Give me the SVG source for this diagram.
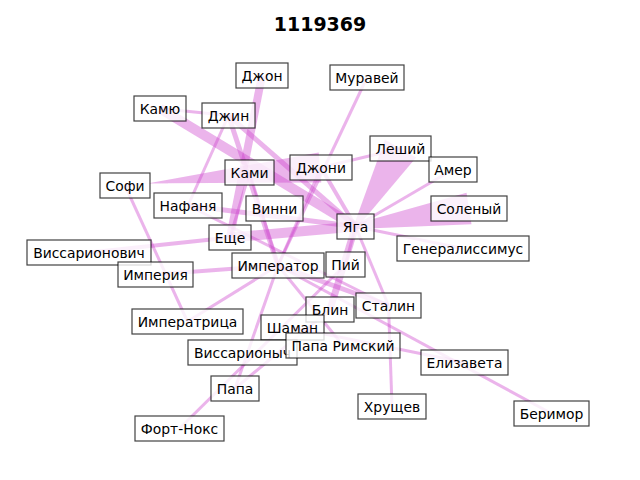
<svg xmlns="http://www.w3.org/2000/svg" width="640" height="480" viewBox="0 0 640 480">
<style>
.e{stroke:#CC44CC;stroke-opacity:0.4;fill:none;stroke-linecap:butt}
.w{fill:#CC44CC;fill-opacity:0.4;stroke:none}
.n rect{fill:#fff;fill-opacity:0.8;stroke:#000;stroke-opacity:0.75;stroke-width:1.2}
.n text{font-family:"DejaVu Sans","Liberation Sans",sans-serif;font-size:13.9px;fill:#000;text-anchor:middle}
.t{font-family:"DejaVu Sans","Liberation Sans",sans-serif;font-size:19px;font-weight:bold;text-anchor:middle;fill:#000}
</style>
<rect width="640" height="480" fill="#fff"/>
<text class="t" x="320" y="30.5">1119369</text>
<g id="edges">
<line class="e" x1="262" y1="75.5" x2="230" y2="237.5" stroke-width="8"/>
<line class="e" x1="160" y1="108.5" x2="228.5" y2="115.5" stroke-width="3"/>
<line class="e" x1="160" y1="108.5" x2="355.5" y2="226.5" stroke-width="10"/>
<line class="e" x1="228.5" y1="115.5" x2="355.5" y2="226.5" stroke-width="5"/>
<line class="e" x1="228.5" y1="115.5" x2="278" y2="265.5" stroke-width="5"/>
<line class="e" x1="228.5" y1="115.5" x2="188" y2="205.5" stroke-width="3"/>
<line class="e" x1="367" y1="77.5" x2="278" y2="265.5" stroke-width="3"/>
<polygon class="w" points="321.3,182.5 318.7,152.5 125.2,187.5 124.8,183.5"/>
<line class="e" x1="321" y1="167.5" x2="400.5" y2="148.5" stroke-width="3"/>
<line class="e" x1="125" y1="185.5" x2="187.5" y2="321.5" stroke-width="3"/>
<line class="e" x1="321" y1="167.5" x2="355.5" y2="226.5" stroke-width="4"/>
<line class="e" x1="321" y1="167.5" x2="278" y2="265.5" stroke-width="3"/>
<polygon class="w" points="416.1,157.5 384.9,139.5 353.8,225.5 357.2,227.5"/>
<line class="e" x1="355.5" y1="226.5" x2="330" y2="309.5" stroke-width="7"/>
<line class="e" x1="453" y1="169.5" x2="355.5" y2="226.5" stroke-width="3"/>
<polygon class="w" points="471.5,224.3 466.5,192.7 355.1,224 355.9,229"/>
<line class="e" x1="230" y1="237.5" x2="355.5" y2="226.5" stroke-width="10"/>
<line class="e" x1="463" y1="248.5" x2="355.5" y2="226.5" stroke-width="3"/>
<line class="e" x1="89" y1="252.5" x2="230" y2="237.5" stroke-width="4"/>
<line class="e" x1="155.5" y1="274.5" x2="278" y2="265.5" stroke-width="4"/>
<line class="e" x1="187.5" y1="321.5" x2="278" y2="265.5" stroke-width="3"/>
<line class="e" x1="235" y1="388.5" x2="278" y2="265.5" stroke-width="3"/>
<line class="e" x1="179.5" y1="428.5" x2="345.5" y2="264.5" stroke-width="3"/>
<line class="e" x1="235" y1="388.5" x2="330" y2="309.5" stroke-width="3"/>
<line class="e" x1="278" y1="265.5" x2="388.5" y2="305.5" stroke-width="5"/>
<line class="e" x1="188" y1="205.5" x2="388.5" y2="305.5" stroke-width="3"/>
<line class="e" x1="388.5" y1="305.5" x2="392" y2="406.5" stroke-width="3"/>
<line class="e" x1="355.5" y1="226.5" x2="388.5" y2="305.5" stroke-width="3"/>
<line class="e" x1="278" y1="265.5" x2="551.5" y2="413.5" stroke-width="3"/>
<line class="e" x1="292.5" y1="327.5" x2="464.5" y2="362.5" stroke-width="3"/>
<line class="e" x1="188" y1="205.5" x2="355.5" y2="226.5" stroke-width="5"/>
<line class="e" x1="355.5" y1="226.5" x2="345.5" y2="264.5" stroke-width="3"/>
<line class="e" x1="249.5" y1="172.5" x2="230" y2="237.5" stroke-width="3"/>
<line class="e" x1="249.5" y1="172.5" x2="278" y2="265.5" stroke-width="3"/>
<line class="e" x1="278" y1="265.5" x2="343" y2="345.5" stroke-width="3"/>
</g>
<g id="n-dzhon" class="n"><rect x="236" y="63" width="52" height="25"/><text x="262" y="80.5">Джон</text></g>
<g id="n-muravei" class="n"><rect x="330" y="65" width="74" height="25"/><text x="367" y="82.5">Муравей</text></g>
<g id="n-kamyu" class="n"><rect x="134" y="96" width="52" height="25"/><text x="160" y="113.5">Камю</text></g>
<g id="n-dzhin" class="n"><rect x="202" y="103" width="53" height="25"/><text x="228.5" y="120.5">Джин</text></g>
<g id="n-leshii" class="n"><rect x="370" y="136" width="61" height="25"/><text x="400.5" y="153.5">Леший</text></g>
<g id="n-kami" class="n"><rect x="225" y="160" width="49" height="25"/><text x="249.5" y="177.5">Ками</text></g>
<g id="n-dzhoni" class="n"><rect x="290" y="155" width="62" height="25"/><text x="321" y="172.5">Джони</text></g>
<g id="n-amer" class="n"><rect x="429" y="157" width="48" height="25"/><text x="453" y="174.5">Амер</text></g>
<g id="n-sofi" class="n"><rect x="100" y="173" width="50" height="25"/><text x="125" y="190.5">Софи</text></g>
<g id="n-nafanya" class="n"><rect x="154" y="193" width="68" height="25"/><text x="188" y="210.5">Нафаня</text></g>
<g id="n-vinni" class="n"><rect x="246" y="196" width="57" height="25"/><text x="274.5" y="213.5">Винни</text></g>
<g id="n-solenyi" class="n"><rect x="431" y="196" width="76" height="25"/><text x="469" y="213.5">Соленый</text></g>
<g id="n-yaga" class="n"><rect x="337" y="214" width="37" height="25"/><text x="355.5" y="231.5">Яга</text></g>
<g id="n-eshche" class="n"><rect x="209" y="225" width="42" height="25"/><text x="230" y="242.5">Еще</text></g>
<g id="n-generalissimus" class="n"><rect x="397" y="236" width="132" height="25"/><text x="463" y="253.5">Генералиссимус</text></g>
<g id="n-vissarionovich" class="n"><rect x="27" y="240" width="124" height="25"/><text x="89" y="257.5">Виссарионович</text></g>
<g id="n-imperator" class="n"><rect x="232" y="253" width="92" height="25"/><text x="278" y="270.5">Император</text></g>
<g id="n-pii" class="n"><rect x="326" y="252" width="39" height="25"/><text x="345.5" y="269.5">Пий</text></g>
<g id="n-imperiya" class="n"><rect x="118" y="262" width="75" height="25"/><text x="155.5" y="279.5">Империя</text></g>
<g id="n-blin" class="n"><rect x="306" y="297" width="48" height="25"/><text x="330" y="314.5">Блин</text></g>
<g id="n-stalin" class="n"><rect x="356" y="293" width="65" height="25"/><text x="388.5" y="310.5">Сталин</text></g>
<g id="n-imperatritsa" class="n"><rect x="132" y="309" width="111" height="25"/><text x="187.5" y="326.5">Императрица</text></g>
<g id="n-shaman" class="n"><rect x="261" y="315" width="63" height="25"/><text x="292.5" y="332.5">Шаман</text></g>
<g id="n-vissarionych" class="n"><rect x="188" y="340" width="109" height="25"/><text x="242.5" y="357.5">Виссарионыч</text></g>
<g id="n-papa-rimskii" class="n"><rect x="286" y="333" width="114" height="25"/><text x="343" y="350.5">Папа Римский</text></g>
<g id="n-elizaveta" class="n"><rect x="421" y="350" width="87" height="25"/><text x="464.5" y="367.5">Елизавета</text></g>
<g id="n-papa" class="n"><rect x="211" y="376" width="48" height="25"/><text x="235" y="393.5">Папа</text></g>
<g id="n-khrushchev" class="n"><rect x="358" y="394" width="68" height="25"/><text x="392" y="411.5">Хрущев</text></g>
<g id="n-berimor" class="n"><rect x="514" y="401" width="75" height="25"/><text x="551.5" y="418.5">Беримор</text></g>
<g id="n-fort-noks" class="n"><rect x="135" y="416" width="89" height="25"/><text x="179.5" y="433.5">Форт-Нокс</text></g>
</svg>
